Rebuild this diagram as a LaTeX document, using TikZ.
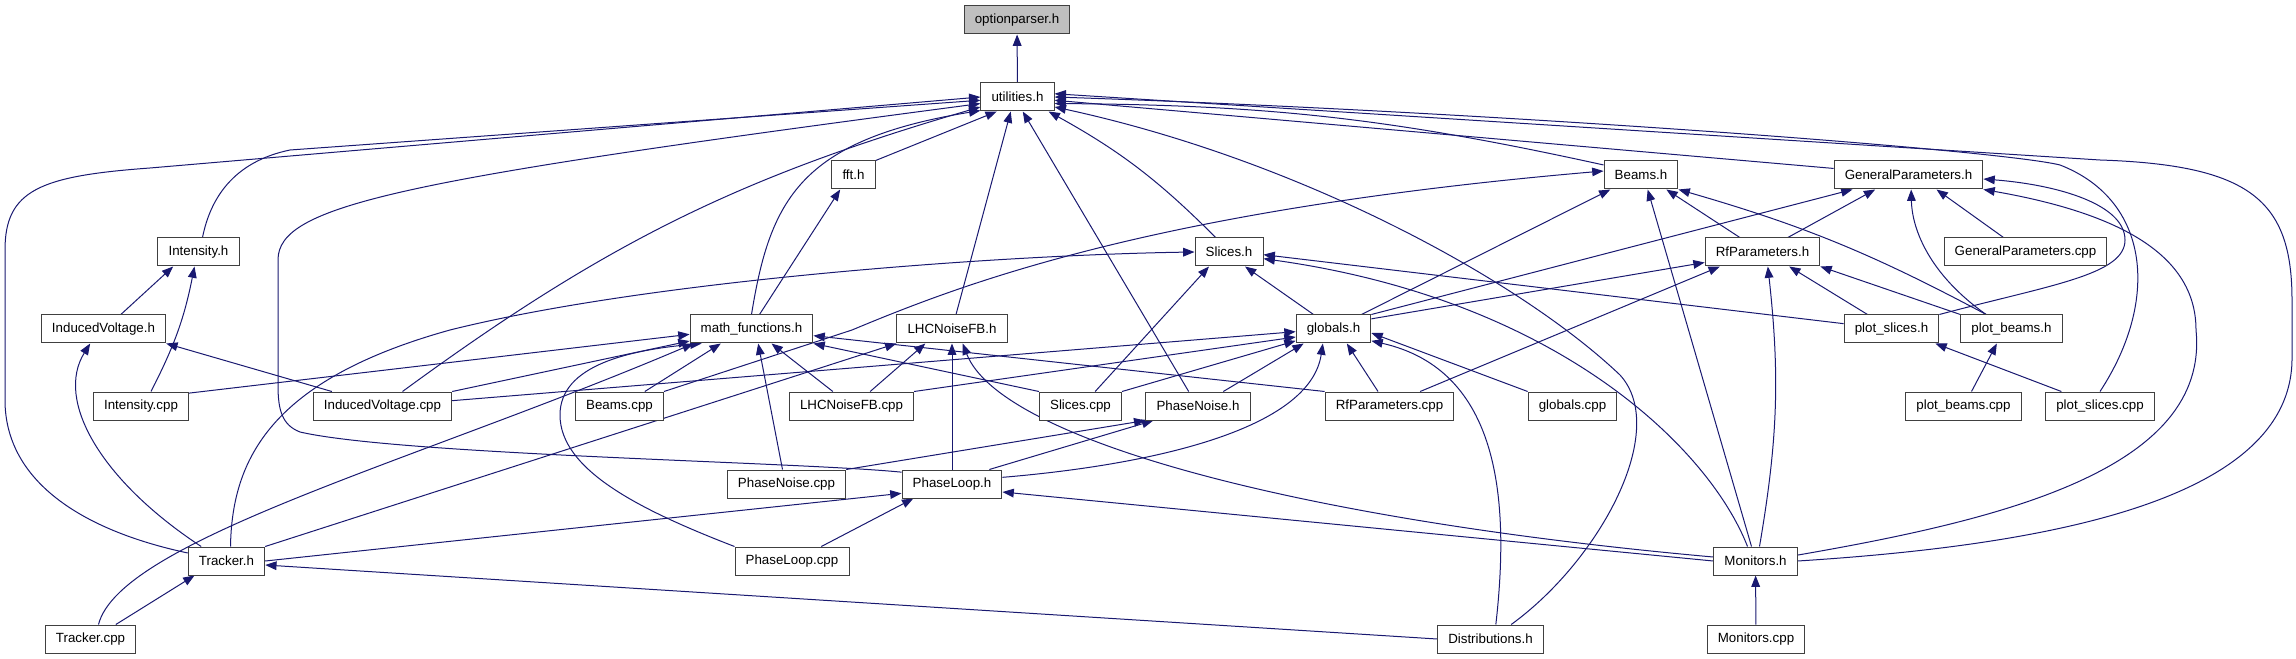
\documentclass[tikz,border=0pt]{standalone}
\usepackage{fontspec}
\setmainfont{Liberation Sans}
\usetikzlibrary{arrows.meta,backgrounds}
\definecolor{edgeblue}{HTML}{191970}
\definecolor{rootgray}{HTML}{BFBFBF}
\tikzset{
  filebox/.style={draw=black!75, line width=0.75pt, fill=white, inner xsep=8pt, inner ysep=0pt,
    minimum height=21pt, font=\fontsize{10}{12}\selectfont},
  incl/.style={draw=edgeblue, line width=0.75pt, -{Triangle[length=8.5pt,width=6.5pt]}},
}
\begin{document}
\begin{tikzpicture}[x=0.75pt, y=-0.75pt]
  \useasboundingbox (0,0) rectangle (2296,659);
  \node[filebox, fill=rootgray] (opt) at (1017,20) {optionparser.h};
  \node[filebox] (util) at (1017.5,97) {utilities.h};
  \node[filebox] (ffth) at (853.5,175) {fft.h};
  \node[filebox] (beamsh) at (1641,175) {Beams.h};
  \node[filebox] (genph) at (1908.5,175) {GeneralParameters.h};
  \node[filebox] (inth) at (198.5,252) {Intensity.h};
  \node[filebox] (slicesh) at (1229,252) {Slices.h};
  \node[filebox] (rfh) at (1762.5,252) {RfParameters.h};
  \node[filebox] (genpcpp) at (2025.5,252) {GeneralParameters.cpp};
  \node[filebox] (indvh) at (103.5,329) {InducedVoltage.h};
  \node[filebox] (mathf) at (751.5,329) {math\_functions.h};
  \node[filebox] (lhch) at (952,329) {LHCNoiseFB.h};
  \node[filebox] (globh) at (1333.5,329) {globals.h};
  \node[filebox] (pslh) at (1891.5,329) {plot\_slices.h};
  \node[filebox] (pbmh) at (2011.5,329) {plot\_beams.h};
  \node[filebox] (intcpp) at (141,406) {Intensity.cpp};
  \node[filebox] (indvcpp) at (382.5,406) {InducedVoltage.cpp};
  \node[filebox] (beamscpp) at (619.5,406) {Beams.cpp};
  \node[filebox] (lhccpp) at (851.5,406) {LHCNoiseFB.cpp};
  \node[filebox] (slicescpp) at (1080.5,406) {Slices.cpp};
  \node[filebox] (pnh) at (1198,406) {PhaseNoise.h};
  \node[filebox] (rfcpp) at (1389.5,406) {RfParameters.cpp};
  \node[filebox] (globcpp) at (1572.5,406) {globals.cpp};
  \node[filebox] (pbmcpp) at (1963.5,406) {plot\_beams.cpp};
  \node[filebox] (pslcpp) at (2100,406) {plot\_slices.cpp};
  \node[filebox] (pncpp) at (786.5,484) {PhaseNoise.cpp};
  \node[filebox] (plooph) at (952,484) {PhaseLoop.h};
  \node[filebox] (trh) at (226.5,561) {Tracker.h};
  \node[filebox] (plcpp) at (792,561) {PhaseLoop.cpp};
  \node[filebox] (monh) at (1755.5,561) {Monitors.h};
  \node[filebox] (trcpp) at (90.5,639) {Tracker.cpp};
  \node[filebox] (distrh) at (1490.5,639) {Distributions.h};
  \node[filebox] (moncpp) at (1756,639) {Monitors.cpp};
  \begin{scope}[on background layer]
    \draw[incl] (util) -- (opt);
    \draw[incl] ([xshift=3pt]inth.north) .. controls (210,200) and (232,162) .. (290,150) -- (util.185);
    \draw[incl] ([yshift=6pt]trh.west) .. controls (80,530) and (5,480) .. (5,400) -- (5,250)
      .. controls (5,190) and (40,176) .. (150,168) -- (util.180);
    \draw[incl] ([yshift=-2pt]plooph.north west) .. controls (800,462) and (400,455) .. (300,432)
      .. controls (282,425) and (278,410) .. (278,385) -- (278,260) .. controls (278,205) and (400,180) .. (util.190);
    \draw[incl] ([xshift=15pt]indvcpp.north) to[bend left=10] (util.195);
    \draw[incl] (mathf.north) .. controls (770,200) and (800,140) .. (util.200);
    \draw[incl] (ffth.north east) -- (util.215);
    \draw[incl] ([xshift=3pt]lhch.north) -- (util.245);
    \draw[incl] ([xshift=-7pt]pnh.north) -- (util.290);
    \draw[incl] ([xshift=-10pt]slicesh.north) to[bend right=8] (util.335);
    \draw[incl] (distrh.35) .. controls (1600,560) and (1670,430) .. (1620,375)
      .. controls (1520,280) and (1300,160) .. (util.345);
    \draw[incl] (beamsh.165) to[bend right=6] (util.350);
    \draw[incl] (genph.175) -- (util.355);
    \draw[incl] (pslcpp.north) .. controls (2160,300) and (2150,200) .. (2060,165)
      .. controls (2000,150) and (1500,112) .. (util.0);
    \draw[incl] (monh.east) .. controls (2050,545) and (2290,500) .. (2292,360) -- (2292,300)
      .. controls (2292,200) and (2250,165) .. (2100,160) -- (util.5);
    \draw[incl] ([xshift=6pt]mathf.north) -- ([xshift=-10pt]ffth.south);
    \draw[incl] ([xshift=13pt]indvh.north) -- ([xshift=-19pt]inth.south);
    \draw[incl] ([xshift=7.5pt]intcpp.north) to[bend right=8] ([xshift=-3pt]inth.south);
    \draw[incl] ([xshift=-38pt]indvcpp.north) -- (indvh.south east);
    \draw[incl] ([xshift=-19pt]trh.north) .. controls (100,480) and (55,400) .. ([xshift=-10pt]indvh.south);
    \draw[incl] ([xshift=19pt]trcpp.north) -- ([xshift=-24pt]trh.south);
    \draw[incl] (distrh.west) -- ([yshift=-3pt]trh.east);
    \draw[incl] ([xshift=3pt]trh.north) .. controls (232,460) and (270,380) .. (450,330)
      .. controls (650,280) and (1000,255) .. (slicesh.west);
    \draw[incl] ([xshift=11pt]slicescpp.north) -- ([xshift=-15pt]slicesh.south);
    \draw[incl] ([xshift=-15pt]globh.north) -- ([xshift=12pt]slicesh.south);
    \draw[incl] ([yshift=4pt]pslh.west) -- ([yshift=-2pt]slicesh.east);
    \draw[incl] ([xshift=-6pt]monh.north) .. controls (1710,450) and (1560,300) .. ([yshift=-5pt]slicesh.east);
    \draw[incl] (trh.north east) -- (lhch.south west);
    \draw[incl] ([xshift=14pt]lhccpp.north) -- ([xshift=-20pt]lhch.south);
    \draw[incl] (plooph) -- (lhch);
    \draw[incl] ([yshift=3pt]monh.west) .. controls (1300,520) and (1000,440) .. ([xshift=8pt]lhch.south);
    \draw[incl] (intcpp.15) -- ([yshift=-4pt]mathf.west);
    \draw[incl] (indvcpp.north east) -- ([yshift=-9pt]mathf.west);
    \draw[incl] ([xshift=6pt]trcpp.north) .. controls (120,540) and (420,460) .. ([xshift=3pt]mathf.south west);
    \draw[incl] (plcpp.north west) .. controls (640,510) and (560,470) .. (560,415)
      .. controls (560,365) and (630,350) .. ([xshift=9pt]mathf.south west);
    \draw[incl] ([xshift=19pt]beamscpp.north) -- ([xshift=-23pt]mathf.south);
    \draw[incl] ([xshift=-3pt]pncpp.north) -- ([xshift=5pt]mathf.south);
    \draw[incl] ([xshift=-14pt]lhccpp.north) -- ([xshift=15pt]mathf.south);
    \draw[incl] (slicescpp.north west) -- (mathf.south east);
    \draw[incl] (rfcpp.north west) -- ([yshift=-5pt]mathf.east);
    \draw[incl] (pncpp.north east) -- (pnh.south west);
    \draw[incl] ([xshift=28pt]plooph.north) -- ([xshift=6pt]pnh.south west);
    \draw[incl] (trh.east) -- ([yshift=-7pt]plooph.west);
    \draw[incl] ([xshift=22pt]plcpp.north) -- ([xshift=-29pt]plooph.south);
    \draw[incl] (monh.west) -- ([yshift=-6pt]plooph.east);
    \draw[incl] ([yshift=4pt]indvcpp.east) -- ([yshift=-2pt]globh.west);
    \draw[incl] (lhccpp.north east) -- ([yshift=-6pt]globh.west);
    \draw[incl] (slicescpp.north east) -- ([yshift=2pt]globh.south west);
    \draw[incl] ([xshift=19pt]pnh.north) -- ([xshift=6pt]globh.south west);
    \draw[incl] ([yshift=5pt]plooph.east) .. controls (1150,465) and (1310,430) .. ([xshift=-8pt]globh.south);
    \draw[incl] ([xshift=-8.6pt]rfcpp.north) -- ([xshift=10pt]globh.south);
    \draw[incl] (globcpp.north west) -- ([yshift=-3pt]globh.east);
    \draw[incl] ([xshift=4pt]distrh.north) .. controls (1510,500) and (1500,370) .. ([yshift=2pt]globh.south east);
    \draw[incl] (beamscpp.north east) -- (852,330) .. controls (960,285) and (1150,210) .. ([yshift=3pt]beamsh.west);
    \draw[incl] ([xshift=21pt]globh.north) -- ([xshift=-23pt]beamsh.south);
    \draw[incl] ([xshift=-3pt]monh.north) -- ([xshift=5pt]beamsh.south);
    \draw[incl] ([xshift=-17pt]rfh.north) -- ([xshift=19pt]beamsh.south);
    \draw[incl] ([xshift=-19pt]pbmh.north) to[bend right=6] (beamsh.south east);
    \draw[incl] (globh.15) -- ([yshift=3pt]rfh.south west);
    \draw[incl] ([xshift=23pt]rfcpp.north) -- ([xshift=-32pt]rfh.south);
    \draw[incl] ([xshift=3pt]monh.north) to[bend right=8] ([xshift=4pt]rfh.south);
    \draw[incl] ([xshift=-18pt]pslh.north) -- ([xshift=20pt]rfh.south);
    \draw[incl] (pbmh.north west) -- (rfh.south east);
    \draw[incl] (globh.north east) -- ([xshift=-42pt]genph.south);
    \draw[incl] ([xshift=19pt]rfh.north) -- ([xshift=-25pt]genph.south);
    \draw[incl] ([xshift=-19pt]pbmh.north) .. controls (1930,275) and (1912,230) .. ([xshift=2pt]genph.south);
    \draw[incl] ([xshift=-16.5pt]genpcpp.north) -- ([xshift=21pt]genph.south);
    \draw[incl] (pslh.north east) .. controls (2050,285) and (2125,275) .. (2125,240)
      .. controls (2125,205) and (2060,185) .. ([yshift=-3pt]genph.east);
    \draw[incl] (monh.8) .. controls (2000,520) and (2210,470) .. (2196,330)
      .. controls (2196,260) and (2130,215) .. (genph.south east);
    \draw[incl] ([xshift=-29pt]pslcpp.north) -- ([xshift=-3pt]pslh.south east);
    \draw[incl] ([xshift=6pt]pbmcpp.north) -- ([xshift=-11pt]pbmh.south);
    \draw[incl] (moncpp) -- (monh);
  \end{scope}
\end{tikzpicture}
\end{document}
